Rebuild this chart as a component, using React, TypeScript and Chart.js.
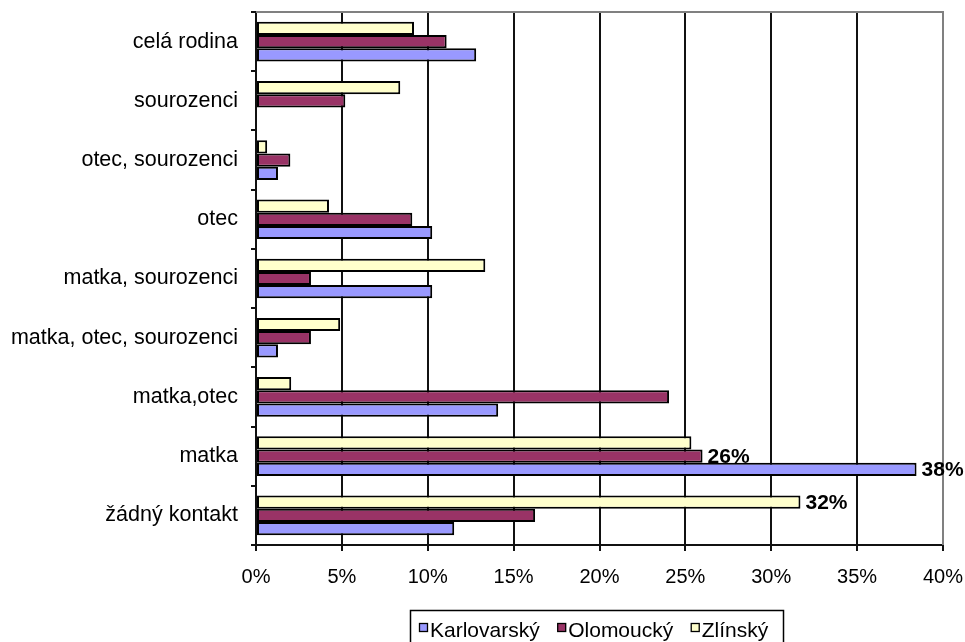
import React, { useEffect, useRef } from "react";
import { Chart, registerables } from "chart.js";

Chart.register(...registerables);

// Kontakt s rodinou podle kraje (% respondentů)
const categories = [
  "celá rodina",
  "sourozenci",
  "otec, sourozenci",
  "otec",
  "matka, sourozenci",
  "matka, otec, sourozenci",
  "matka,otec",
  "matka",
  "žádný kontakt",
];

const karlovarsky = [12.82, 0, 1.28, 10.26, 10.26, 1.28, 14.1, 38.46, 11.54];
const olomoucky = [11.1, 5.2, 2.0, 9.1, 3.2, 3.2, 24.05, 26.0, 16.25];
const zlinsky = [9.2, 8.4, 0.65, 4.25, 13.35, 4.9, 2.05, 25.35, 31.7];

const seriesNames = ["Karlovarský", "Olomoucký", "Zlínský"];
const seriesColors = ["#9999FF", "#993366", "#FFFFCC"];

const xTicks = [0, 5, 10, 15, 20, 25, 30, 35, 40];

// bars that carry a value label: [series, category]
const labelledBars: [string, string][] = [
  ["Olomoucký", "matka"],
  ["Karlovarský", "matka"],
  ["Zlínský", "žádný kontakt"],
];

const FONT = "'Liberation Sans', Arial, sans-serif";

const frameAndLabels = {
  id: "frameAndLabels",
  beforeDatasetsDraw(chart: any) {
    const { ctx, chartArea } = chart;
    ctx.save();
    ctx.strokeStyle = "#808080";
    ctx.lineWidth = 2;
    ctx.beginPath();
    ctx.moveTo(chartArea.left, chartArea.top);
    ctx.lineTo(chartArea.right, chartArea.top);
    ctx.lineTo(chartArea.right, chartArea.bottom);
    ctx.stroke();
    ctx.restore();
  },
  afterDatasetsDraw(chart: any) {
    const { ctx } = chart;
    ctx.save();
    ctx.font = `bold 21px ${FONT}`;
    ctx.fillStyle = "#000";
    ctx.textAlign = "left";
    ctx.textBaseline = "middle";
    chart.data.datasets.forEach((ds: any, di: number) => {
      labelledBars.forEach(([s, c]) => {
        if (ds.label !== s) return;
        const idx = chart.data.labels.indexOf(c);
        const el = chart.getDatasetMeta(di).data[idx];
        const v = ds.data[idx];
        ctx.fillText(`${Math.round(v)}%`, el.x + 5, el.y + 1);
      });
    });
    ctx.restore();
  },
  afterDraw(chart: any) {
    // legend box, series in their original order
    const { ctx } = chart;
    ctx.save();
    ctx.font = `21px ${FONT}`;
    ctx.textBaseline = "alphabetic";
    ctx.textAlign = "left";
    const items = [...chart.data.datasets].reverse();
    const sq = 8;
    const gapSq = 2.5;
    const gapItem = 18;
    const boxL = 410.5;
    const boxR = 783.5;
    const boxT = 610.5;
    ctx.strokeStyle = "#000";
    ctx.lineWidth = 1.5;
    ctx.strokeRect(boxL, boxT, boxR - boxL, 40);
    let x = 419.5;
    const base = 637;
    items.forEach((ds: any) => {
      ctx.fillStyle = ds.backgroundColor;
      ctx.fillRect(x, 623.5, sq, sq);
      ctx.lineWidth = 1.3;
      ctx.strokeStyle = "#000";
      ctx.strokeRect(x, 623.5, sq, sq);
      x += sq + gapSq;
      ctx.fillStyle = "#000";
      ctx.fillText(ds.label, x, base);
      x += ctx.measureText(ds.label).width + gapItem;
    });
    ctx.restore();
  },
};

export default function App() {
  const canvasRef = useRef<HTMLCanvasElement | null>(null);

  useEffect(() => {
    if (!canvasRef.current) return;
    Chart.defaults.font.family = FONT;
    Chart.defaults.color = "#000";
    const values: Record<string, number[]> = {
      Karlovarský: karlovarsky,
      Olomoucký: olomoucky,
      Zlínský: zlinsky,
    };
    // Zlínský first so that it sits on top within each group
    const order = [2, 1, 0];
    const chart = new Chart(canvasRef.current, {
      type: "bar",
      data: {
        labels: categories,
        datasets: order.map((i) => ({
          label: seriesNames[i],
          data: values[seriesNames[i]],
          backgroundColor: seriesColors[i],
          borderColor: "#000",
          borderWidth: 2,
          borderSkipped: false,
          categoryPercentage: 0.67,
          barPercentage: 1,
        })),
      },
      options: {
        indexAxis: "y",
        animation: false,
        responsive: false,
        devicePixelRatio: 1,
        layout: { padding: { top: 12, right: 22, left: 0, bottom: 0 } },
        plugins: {
          legend: { display: false },
          tooltip: { enabled: false },
        },
        scales: {
          x: {
            type: "linear",
            min: 0,
            max: 40,
            afterBuildTicks: (scale: any) => {
              scale.ticks = xTicks.map((v) => ({ value: v }));
            },
            afterFit: (scale: any) => {
              scale.height = 97;
              scale.paddingLeft = 0;
              scale.paddingRight = 0;
            },
            ticks: {
              font: { size: 20 },
              padding: 14,
              maxRotation: 0,
              callback: (v: any) => `${v}%`,
            },
            grid: {
              color: (c: any) => (c.tick && c.tick.value === 40 ? "rgba(0,0,0,0)" : "#111"),
              lineWidth: 2,
              tickLength: 6,
              tickColor: "#111",
            },
            border: { display: true, color: "#111", width: 2 },
          },
          y: {
            type: "category",
            afterFit: (scale: any) => {
              scale.width = 256;
              scale.paddingTop = 0;
              scale.paddingBottom = 0;
            },
            ticks: { font: { size: 21.5 }, padding: 13 },
            grid: {
              offset: true,
              drawOnChartArea: false,
              tickLength: 5,
              tickColor: "#111",
              lineWidth: 2,
            },
            border: { display: true, color: "#111", width: 2 },
          },
        },
      },
      plugins: [frameAndLabels],
    });
    return () => chart.destroy();
  }, []);

  return (
    <div style={{ position: "absolute", left: 0, top: 0, width: 965, height: 642, background: "#fff" }}>
      <canvas ref={canvasRef} width={965} height={642} style={{ display: "block" }} />
    </div>
  );
}
